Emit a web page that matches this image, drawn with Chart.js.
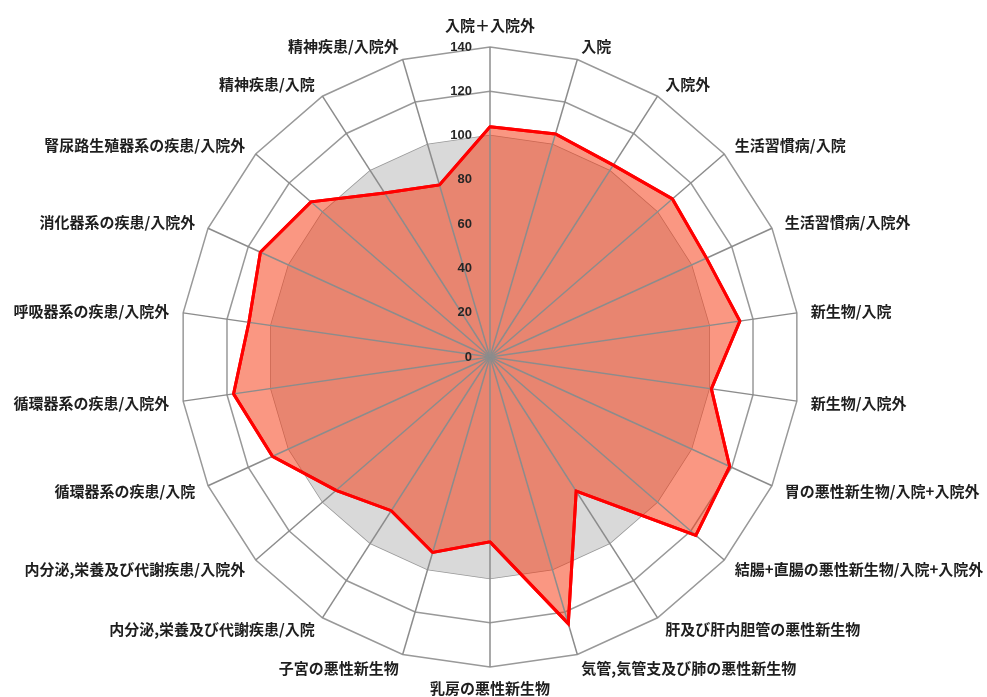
<!DOCTYPE html>
<html>
<head>
<meta charset="utf-8">
<script src="https://cdn.jsdelivr.net/npm/chart.js@4.4.0/dist/chart.umd.min.js"></script>
<style>
  html, body { margin: 0; padding: 0; background: #fff; }
  canvas { display: block; }
</style>
</head>
<body>
<canvas id="radar" width="987" height="697"></canvas>
<script>
  // categories, clockwise from the top
  var categories = [
    "入院＋入院外", "入院", "入院外", "生活習慣病/入院", "生活習慣病/入院外",
    "新生物/入院", "新生物/入院外", "胃の悪性新生物/入院+入院外",
    "結腸+直腸の悪性新生物/入院+入院外", "肝及び肝内胆管の悪性新生物",
    "気管,気管支及び肺の悪性新生物", "乳房の悪性新生物", "子宮の悪性新生物",
    "内分泌,栄養及び代謝疾患/入院", "内分泌,栄養及び代謝疾患/入院外",
    "循環器系の疾患/入院", "循環器系の疾患/入院外", "呼吸器系の疾患/入院外",
    "消化器系の疾患/入院外", "腎尿路生殖器系の疾患/入院外",
    "精神疾患/入院", "精神疾患/入院外"
  ];
  var localValues = [104, 105, 103, 109, 107.5, 114, 101, 119, 123, 72, 125.5,
                     83.5, 92, 82.5, 92, 108, 117, 110, 114, 107, 88, 81];
  var baseValues = [100, 100, 100, 100, 100, 100, 100, 100, 100, 100, 100,
                    100, 100, 100, 100, 100, 100, 100, 100, 100, 100, 100];
  var tickValues = [0, 20, 40, 60, 80, 100, 120, 140];

  var labelFont = "bold 15px 'Noto Sans CJK JP', sans-serif";
  var tickFont = "bold 13px 'Liberation Sans', Arial, sans-serif";

  // red outline back over the spokes, then labels and tick numbers
  var textPlugin = {
    id: "radarText",
    afterDraw: function(chart) {
      var scale = chart.scales.r;
      var ctx = chart.ctx;
      chart.getDatasetMeta(0).dataset.draw(ctx, chart.chartArea);
      ctx.save();
      ctx.fillStyle = "#1e1e1e";
      ctx.font = labelFont;
      for (var i = 0; i < categories.length; i++) {
        var p = scale.getPointPosition(i, scale.drawingArea + 14);
        var s = Math.sin(scale.getIndexAngle(i));
        var c = Math.cos(scale.getIndexAngle(i));
        ctx.textAlign = s > 0.05 ? "left" : (s < -0.05 ? "right" : "center");
        ctx.textBaseline = "middle";
        if (Math.abs(s) <= 0.05) {
          ctx.textBaseline = c > 0 ? "bottom" : "top";
        }
        ctx.fillText(categories[i], p.x, p.y);
      }
      ctx.font = tickFont;
      ctx.fillStyle = "#262626";
      ctx.textAlign = "right";
      ctx.textBaseline = "middle";
      tickValues.forEach(function(v) {
        var y = scale.yCenter - scale.getDistanceFromCenterForValue(v);
        ctx.fillText(String(v), scale.xCenter - 18, y);
      });
      ctx.restore();
    }
  };

  new Chart(document.getElementById("radar"), {
    type: "radar",
    data: {
      labels: categories,
      datasets: [
        {
          data: localValues,
          borderColor: "#ff0000",
          borderWidth: 3,
          backgroundColor: "rgba(245,55,15,0.52)",
          fill: "origin",
          pointRadius: 0
        },
        {
          data: baseValues,
          borderWidth: 0,
          borderColor: "rgba(0,0,0,0)",
          backgroundColor: "rgb(217,217,217)",
          fill: "origin",
          pointRadius: 0
        }
      ]
    },
    options: {
      responsive: false,
      animation: false,
      layout: { padding: { top: 47, bottom: 30, left: 0, right: 7 } },
      elements: { line: { tension: 0 } },
      plugins: {
        legend: { display: false },
        tooltip: { enabled: false }
      },
      scales: {
        r: {
          min: 0,
          max: 140,
          ticks: { stepSize: 20, display: false },
          grid: { color: "#999999", lineWidth: 1.5 },
          angleLines: { display: false },
          pointLabels: { display: false }
        },
        // second axis only for the spokes, drawn over the fills
        r2: {
          type: "radialLinear",
          min: 0,
          max: 140,
          ticks: { stepSize: 20, display: false },
          grid: { display: false, z: 1 },
          angleLines: { color: "#8c8c8c", lineWidth: 1.5 },
          pointLabels: { display: false }
        }
      }
    },
    plugins: [textPlugin]
  });
</script>
</body>
</html>
